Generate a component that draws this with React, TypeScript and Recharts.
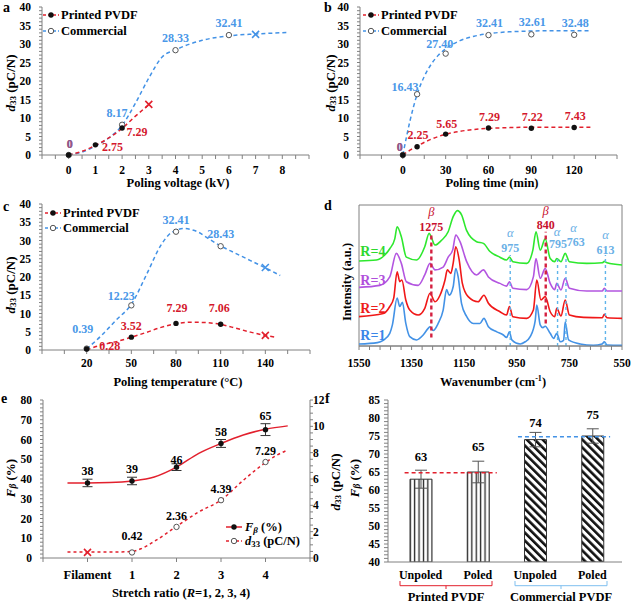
import React from 'react';
import {
  ComposedChart,
  BarChart,
  Line,
  Scatter,
  Bar,
  Cell,
  XAxis,
  YAxis,
  ErrorBar,
  ReferenceLine,
  ReferenceArea,
  LabelList,
} from 'recharts';

const FONT = '"Liberation Serif", "Times New Roman", serif';
const RED = '#e2202d';
const BLUE = '#4392e6';
const RED_TXT = '#d4182c';
const BLUE_TXT = '#4a98e8';
const AXIS = '#808080';

const range = (a: number, b: number, s: number) => {
  const out: number[] = [];
  for (let v = a; v <= b + 1e-9; v += s) out.push(Math.round(v * 1000) / 1000);
  return out;
};

// ---- a: poling voltage ----
const aPrintedX = [0, 1, 2];
const aPrintedY = [0, 2.75, 7.29];
const aPrintedEndX = [3];
const aPrintedEndY = [13.7];
const aCommX = [0, 2, 4, 6];
const aCommY = [0, 8.17, 28.33, 32.41];
const aCommEndX = [7];
const aCommEndY = [32.6];
const aPrintedFitX = [0, 0.5, 1, 1.5, 2, 2.5, 3];
const aPrintedFitY = [0, 1.0, 2.6, 4.6, 7.2, 10.5, 13.6];
const aCommFitX = [0, 0.5, 1, 1.5, 2, 2.5, 3, 3.5, 4, 4.5, 5, 6, 7, 8.2];
const aCommFitY = [0, 0.8, 2.4, 4.6, 8.0, 14, 20.8, 26.5, 28.4, 29.9, 31, 32.2, 32.7, 33.1];
const aTicks = range(-1, 9, 0.5);
const aTickLabels = [0, 1, 2, 3, 4, 5, 6, 7, 8];

// ---- b: poling time ----
const bX = [0, 10, 30, 60, 90, 120];
const bPrintedY = [0, 2.25, 5.65, 7.29, 7.22, 7.43];
const bCommY = [0, 16.43, 27.4, 32.41, 32.61, 32.48];
const bPrintedFitX = [0, 5, 10, 20, 30, 40, 50, 60, 75, 90, 110, 132];
const bPrintedFitY = [0, 1.3, 2.4, 4.3, 5.6, 6.4, 6.9, 7.2, 7.4, 7.5, 7.5, 7.5];
const bCommFitX = [0, 5, 10, 15, 20, 25, 30, 40, 50, 60, 75, 90, 110, 132];
const bCommFitY = [0, 9.2, 16.4, 21.2, 24.6, 27, 28.7, 30.9, 32.1, 32.8, 33.3, 33.5, 33.6, 33.6];
const bTicks = range(-30, 150, 15);
const bTickLabels = [0, 30, 60, 90, 120];

// ---- c: poling temperature ----
const cX = [20, 50, 80, 110];
const cPrintedY = [0.28, 3.52, 7.29, 7.06];
const cCommY = [0.39, 12.23, 32.41, 28.43];
const cPrintedEndX = [140];
const cPrintedEndY = [4.0];
const cCommEndX = [140];
const cCommEndY = [22.6];
const cPrintedFitX = [20, 30, 40, 50, 60, 70, 80, 90, 100, 110, 120, 130, 140, 147];
const cPrintedFitY = [0, 1.4, 2.3, 3.5, 4.8, 6.2, 7.2, 7.6, 7.5, 7.0, 6.0, 4.9, 4.0, 3.5];
const cCommFitX = [20, 30, 40, 50, 60, 70, 75, 80, 85, 90, 95, 100, 110, 120, 130, 140, 150];
const cCommFitY = [0.3, 4, 8.3, 12.5, 20.5, 28.8, 31.5, 32.8, 33.3, 33, 32.3, 31, 28.5, 26.5, 24.5, 22.5, 20.4];
const cTicks = range(-10, 170, 15);
const cTickLabels = [20, 50, 80, 110, 140];

// ---- d: FTIR spectra ----
const r1X = [1550, 1480, 1458, 1433, 1423, 1405, 1395, 1385, 1372, 1357, 1331, 1306, 1287, 1280, 1268, 1249, 1230, 1217, 1207, 1192, 1182, 1173, 1160, 1141, 1115, 1090, 1075, 1058, 1026, 1001, 989, 978, 969, 937, 918, 899, 880, 874, 861, 851, 842, 823, 810, 798, 785, 772, 766, 753, 709, 659, 626, 617, 607, 550];
const r1Y = [1.4, 2.4, 4, 9, 15, 34, 28, 31, 16, 6.6, 4.3, 7.8, 12.5, 13.7, 11, 16, 25.5, 40, 36, 42, 55, 49, 30, 21, 16, 16, 19.6, 13.7, 10, 7.8, 6, 10, 4.3, 1.4, 3, 6.6, 18, 29, 15, 13, 14, 9, 5.4, 9, 3, 4, 17, 4.3, 1.4, 0.5, 1.4, 3, 0.7, 0.5];
const r2X = [1550, 1458, 1433, 1418, 1405, 1395, 1387, 1372, 1357, 1325, 1300, 1280, 1261, 1242, 1223, 1214, 1201, 1192, 1182, 1169, 1157, 1135, 1097, 1075, 1058, 1014, 989, 978, 965, 912, 887, 874, 858, 842, 823, 806, 798, 782, 766, 750, 696, 625, 617, 607, 550];
const r2Y = [20.8, 23, 28, 34, 52.7, 45.6, 46.8, 32.6, 25.5, 22, 26.7, 37.4, 31.4, 36, 46.8, 54, 51.5, 58.6, 70.4, 61, 44.4, 35, 31.4, 36, 30.3, 24.3, 22, 28, 20.8, 19.6, 25.5, 46.8, 32.6, 35, 24.3, 20.8, 26.7, 21.3, 32.6, 22, 20.3, 20, 22.5, 20, 19.6];
const r3X = [1550, 1471, 1433, 1408, 1389, 1370, 1325, 1300, 1280, 1261, 1230, 1211, 1194, 1182, 1166, 1141, 1103, 1077, 1058, 1014, 989, 978, 965, 912, 887, 877, 861, 842, 823, 806, 798, 782, 766, 750, 684, 625, 617, 607, 550];
const r3Y = [41.6, 43, 49, 65.7, 58.6, 45.6, 43, 50.4, 58.6, 54, 56, 63, 68, 78.7, 74, 60, 50.4, 54, 49, 44.4, 42.5, 45.6, 41, 40, 49, 62, 48, 55, 44.4, 40, 44.4, 39.7, 48, 41, 39, 39, 41, 39, 39];
const r4X = [1550, 1484, 1452, 1433, 1414, 1405, 1389, 1370, 1331, 1300, 1283, 1276, 1261, 1236, 1211, 1192, 1176, 1160, 1141, 1103, 1077, 1052, 1014, 989, 978, 965, 912, 889, 877, 861, 842, 823, 806, 798, 782, 766, 750, 684, 625, 617, 607, 550];
const r4Y = [60.3, 61, 64.5, 69, 76, 84.6, 77.5, 63, 61, 70.4, 80, 77.5, 71.6, 75, 81, 91.7, 96, 93, 82, 74, 72.8, 67, 63, 61, 63, 59.8, 58.6, 68, 81, 68, 76, 62, 59.8, 62, 59.8, 65.7, 59.8, 58.6, 59, 60, 59, 57.4];
const dMarkX = [1275, 840, 975, 795, 763, 613];
const dMarkFrom = [6, 16, 0, 0, 0, 0];
const dMarkTo = [80, 81, 64.5, 62, 63.8, 64.5];
const dGreekText = ['β', 'β', 'α', 'α', 'α', 'α'];
const dGreekX = [1275, 840, 975, 797, 734, 613];
const dGreekY = [95, 96, 80, 81, 84, 78.7];
const dNumText = ['1275', '840', '975', '795', '763', '613'];
const dNumX = [1275, 840, 975, 793, 726, 613];
const dNumY = [84.5, 85.5, 69.3, 72, 74, 68];
const dRText = ['R=1', 'R=2', 'R=3', 'R=4'];
const dRX = [1545, 1545, 1545, 1545];
const dRY = [7.1, 26.7, 46.8, 67];
const dTicks = range(550, 1550, 40);
const dTickLabels = [1550, 1350, 1150, 950, 750, 550];

// ---- e: stretch ratio ----
const eX = [0, 1, 2, 3, 4];
const eFb = [38, 39, 46, 58, 65];
const eFbErr = [1.9, 1.9, 1.7, 2, 3];
const eD33X = [1, 2, 3, 4];
const eD33 = [0.42, 2.36, 4.39, 7.29];
const eD33EndX = [0];
const eD33EndY = [0.43];
const eFbFitX = [-0.45, 0, 0.5, 1, 1.5, 2, 2.5, 3, 3.5, 4, 4.5];
const eFbFitY = [38, 38, 38.2, 39, 41, 46, 53, 58, 62.3, 65.2, 66.9];
const eD33FitX = [-0.45, 0, 0.5, 1, 1.2, 1.5, 2, 2.5, 3, 3.5, 4, 4.25, 4.5];
const eD33FitY = [0.45, 0.45, 0.45, 0.5, 0.7, 1.26, 2.4, 3.5, 4.4, 5.9, 7.25, 7.8, 8.2];
const eTicks = [-1, 0, 1, 2, 3, 4, 5];
const eTickNames = ['', 'Filament', '1', '2', '3', '4', ''];

// ---- f: beta fraction bars ----
const fNames = ['Unpoled', 'Poled', 'Unpoled', 'Poled'];
const fValues = [63, 65, 74, 75];
const fErrors = [2.5, 3, 2, 2];
const fPrintedAvg = 64.8;
const fCommAvg = 74.8;

// label offsets (px) from their points
const aPrintedDx = [1, 17, 15];
const aPrintedDy = [-11, 2, 4];
const aCommDx = [1, -5, 0, 0];
const aCommDy = [-11, -11.5, -12, -12];
const bPrintedDx = [-3, 1, 1, 1, 1, 1];
const bPrintedDy = [-8, -12, -10, -11, -11.5, -11.5];
const bCommDx = [-3, -12, -6, 1, 1, 1];
const bCommDy = [-8, -7, -10, -12, -12, -12];
const cPrintedDx = [23, 0, 1, -1.5];
const cPrintedDy = [-3, -11, -15, -16];
const cCommDx = [-4, -10, 0, 0];
const cCommDy = [-20, -9, -12, -12];
const eFbDy = [-11.7, -12, -7, -11.7, -13.3];
const eD33Dy = [-16, -10.5, -11, -10.6];
const fLabelLift = [22, 25.3, 17, 21];

type Pt = { x: number; y: number; e: number; i: number };
const pts = (xs: number[], ys: number[], es?: number[]): Pt[] =>
  xs.map((x, i) => ({ x, y: ys[i], e: es ? es[i] : 0, i }));

const fmt = (v: number) => (v === 0 ? '0' : v.toFixed(2));
const labelsAt = (list: number[]) => (v: number) => (list.includes(v) ? String(v) : '');
const yTicks40 = range(0, 40, 1);
const yLabels40 = [0, 5, 10, 15, 20, 25, 30, 35, 40];

const TICK = { fontSize: 11.5, fontWeight: 700, fill: '#000', fontFamily: FONT };

const blackDot = (p: any) => <circle cx={p.cx} cy={p.cy} r={2.7} fill="#111" />;
const openDot = (p: any) => (
  <circle cx={p.cx} cy={p.cy} r={2.7} fill="#fff" stroke="#555" strokeWidth={1} />
);
const cross = (color: string) => (p: any) => (
  <path
    d={`M${p.cx - 3.5},${p.cy - 3.5}L${p.cx + 3.5},${p.cy + 3.5}M${p.cx - 3.5},${p.cy + 3.5}L${p.cx + 3.5},${p.cy - 3.5}`}
    stroke={color}
    strokeWidth={1.6}
    fill="none"
  />
);

type TagOpts = { size?: number; italic?: boolean; bold?: boolean; opacity?: number; anchor?: string };
const tag = (
  texts: string[],
  color: string | string[],
  dx?: number[],
  dy?: number[],
  o: TagOpts = {}
) => (p: any) => {
  const i = p.payload.i;
  return (
    <text
      x={p.cx + (dx ? dx[i] : 0)}
      y={p.cy + (dy ? dy[i] : 0)}
      textAnchor={o.anchor || 'middle'}
      dominantBaseline="central"
      fill={Array.isArray(color) ? color[i] : color}
      fillOpacity={o.opacity ?? 1}
      fontSize={o.size ?? 12}
      fontWeight={o.bold === false ? 400 : 700}
      fontStyle={o.italic ? 'italic' : 'normal'}
      fontFamily={FONT}
    >
      {texts[i]}
    </text>
  );
};

const fitLine = (xs: number[], ys: number[], color: string, dash = '4 3', yAxisId: any = 0) => (
  <Line
    data={pts(xs, ys)}
    dataKey="y"
    yAxisId={yAxisId}
    type="monotone"
    stroke={color}
    strokeWidth={1.5}
    strokeDasharray={dash}
    dot={false}
    activeDot={false}
    isAnimationActive={false}
  />
);

const spectrum = (xs: number[], ys: number[], color: string) => (
  <Line
    data={pts(xs, ys)}
    dataKey="y"
    type="monotone"
    stroke={color}
    strokeWidth={1.6}
    dot={false}
    activeDot={false}
    isAnimationActive={false}
  />
);

const marks = (xs: number[], ys: number[], shape: any, yAxisId: any = 0, es?: number[]) => (
  <Scatter data={pts(xs, ys, es)} dataKey="y" yAxisId={yAxisId} shape={shape} isAnimationActive={false}>
    {es ? <ErrorBar dataKey="e" direction="y" width={5} stroke="#333" strokeWidth={1} /> : null}
  </Scatter>
);

function PanelA() {
  return (
    <div style={{ position: 'absolute', left: 0, top: 0 }}>
      <ComposedChart width={320} height={180} margin={{ top: 7, right: 11, bottom: 0, left: 0 }}>
        <XAxis type="number" dataKey="x" domain={[-1, 9]} ticks={aTicks} interval={0} tickFormatter={labelsAt(aTickLabels)} tick={TICK} tickSize={4} tickMargin={7} height={25} stroke={AXIS} />
        <YAxis type="number" dataKey="y" domain={[0, 40]} ticks={yTicks40} interval={0} tickFormatter={labelsAt(yLabels40)} tick={TICK} tickSize={3} tickMargin={8} width={42} stroke={AXIS} />
        {fitLine(aCommFitX, aCommFitY, BLUE)}
        {fitLine(aPrintedFitX, aPrintedFitY, RED)}
        {marks(aCommX, aCommY, openDot)}
        {marks(aCommEndX, aCommEndY, cross(BLUE))}
        {marks(aPrintedX, aPrintedY, blackDot)}
        {marks(aPrintedEndX, aPrintedEndY, cross(RED))}
        {marks(aPrintedX, aPrintedY, tag(aPrintedY.map(fmt), RED_TXT, aPrintedDx, aPrintedDy))}
        {marks(aCommX, aCommY, tag(aCommY.map(fmt), BLUE_TXT, aCommDx, aCommDy))}
        {marks([aCommX[0]], [aCommY[0]], tag(['0'], RED_TXT, aCommDx, aCommDy, { opacity: 0.5 }))}
      </ComposedChart>
    </div>
  );
}

function PanelB() {
  return (
    <div style={{ position: 'absolute', left: 320, top: 0 }}>
      <ComposedChart width={320} height={180} margin={{ top: 7, right: 23, bottom: 0, left: 0 }}>
        <XAxis type="number" dataKey="x" domain={[-30, 150]} ticks={bTicks} interval={0} tickFormatter={labelsAt(bTickLabels)} tick={TICK} tickSize={4} tickMargin={7} height={25} stroke={AXIS} />
        <YAxis type="number" dataKey="y" domain={[0, 40]} ticks={yTicks40} interval={0} tickFormatter={labelsAt(yLabels40)} tick={TICK} tickSize={3} tickMargin={8} width={40} stroke={AXIS} />
        {fitLine(bCommFitX, bCommFitY, BLUE)}
        {fitLine(bPrintedFitX, bPrintedFitY, RED)}
        {marks(bX, bCommY, openDot)}
        {marks(bX, bPrintedY, blackDot)}
        {marks(bX, bPrintedY, tag(bPrintedY.map(fmt), RED_TXT, bPrintedDx, bPrintedDy))}
        {marks(bX, bCommY, tag(bCommY.map(fmt), BLUE_TXT, bCommDx, bCommDy))}
        {marks([bX[0]], [bPrintedY[0]], tag(['0'], RED_TXT, bPrintedDx, bPrintedDy, { opacity: 0.5 }))}
      </ComposedChart>
    </div>
  );
}

function PanelC() {
  return (
    <div style={{ position: 'absolute', left: 0, top: 190 }}>
      <ComposedChart width={320} height={185} margin={{ top: 14, right: 10, bottom: 0, left: 0 }}>
        <XAxis type="number" dataKey="x" domain={[-10, 170]} ticks={cTicks} interval={0} tickFormatter={labelsAt(cTickLabels)} tick={TICK} tickSize={4} tickMargin={5} height={25} stroke={AXIS} />
        <YAxis type="number" dataKey="y" domain={[0, 40]} ticks={yTicks40} interval={0} tickFormatter={labelsAt(yLabels40)} tick={TICK} tickSize={3} tickMargin={8} width={42} stroke={AXIS} />
        {fitLine(cCommFitX, cCommFitY, BLUE)}
        {fitLine(cPrintedFitX, cPrintedFitY, RED)}
        {marks(cX, cCommY, openDot)}
        {marks(cCommEndX, cCommEndY, cross(BLUE))}
        {marks(cX, cPrintedY, blackDot)}
        {marks(cPrintedEndX, cPrintedEndY, cross(RED))}
        {marks(cX, cCommY, tag(cCommY.map(fmt), BLUE_TXT, cCommDx, cCommDy))}
        {marks(cX, cPrintedY, tag(cPrintedY.map(fmt), RED_TXT, cPrintedDx, cPrintedDy))}
      </ComposedChart>
    </div>
  );
}

function PanelD() {
  const seriesColors = [BLUE, '#f01818', '#b355e0', '#2ee82e'];
  const rColors = ['#3a86e8', '#ee1c1c', '#b04fdc', '#2ed82e'];
  return (
    <div style={{ position: 'absolute', left: 320, top: 200 }}>
      <ComposedChart width={320} height={171} margin={{ top: 5, right: 18, bottom: 0, left: 39 }}>
        <XAxis type="number" dataKey="x" domain={[550, 1550]} reversed ticks={dTicks} interval={0} tickFormatter={labelsAt(dTickLabels)} tick={TICK} tickSize={4} tickMargin={9} height={25} stroke={AXIS} />
        <YAxis type="number" dataKey="y" domain={[0, 100]} hide />
        <ReferenceArea x1={550} x2={1550} y1={0} y2={100} fill="none" fillOpacity={0} stroke={AXIS} strokeWidth={1} />
        {spectrum(r1X, r1Y, seriesColors[0])}
        {spectrum(r2X, r2Y, seriesColors[1])}
        {spectrum(r3X, r3Y, seriesColors[2])}
        {spectrum(r4X, r4Y, seriesColors[3])}
        {dMarkX.map((x, i) => (
          <ReferenceLine
            key={i}
            segment={[{ x, y: dMarkFrom[i] }, { x, y: dMarkTo[i] }]}
            stroke={i < 2 ? '#d42040' : '#5fb4ea'}
            strokeWidth={i < 2 ? 2.4 : 1.4}
            strokeDasharray={i < 2 ? '4 3' : '3 3'}
          />
        ))}
        {marks(dGreekX, dGreekY, tag(dGreekText, dGreekText.map((t) => (t === 'β' ? '#c8102e' : '#6ab0e6')), undefined, undefined, { size: 12.5, italic: true, bold: false }))}
        {marks(dNumX, dNumY, tag(dNumText, dNumText.map((_, i) => (i < 2 ? '#c8102e' : '#6ab0e6')), undefined, undefined, { size: 12, bold: true }))}
        {marks(dRX, dRY, tag(dRText, rColors, undefined, undefined, { size: 14, anchor: 'start' }))}
      </ComposedChart>
    </div>
  );
}

function PanelE() {
  return (
    <div style={{ position: 'absolute', left: 0, top: 393 }}>
      <ComposedChart width={340} height={190} margin={{ top: 7, right: 0, bottom: 0, left: 0 }}>
        <XAxis type="number" dataKey="x" domain={[-1, 5]} ticks={eTicks} interval={0} tickFormatter={(v: number) => eTickNames[eTicks.indexOf(v)] ?? ''} tick={{ ...TICK, fontSize: 12.5 }} tickSize={4} tickMargin={8} height={25} stroke={AXIS} />
        <YAxis yAxisId="l" type="number" dataKey="y" domain={[0, 80]} ticks={range(0, 80, 2)} interval={0} tickFormatter={labelsAt(range(0, 80, 10))} tick={TICK} tickSize={3} tickMargin={8} width={43} stroke={AXIS} />
        <YAxis yAxisId="r" orientation="right" type="number" dataKey="y" domain={[0, 12]} ticks={range(0, 12, 0.5)} interval={0} tickFormatter={labelsAt(range(0, 12, 2))} tick={TICK} tickSize={3} tickMargin={0} width={30} stroke={AXIS} />
        {fitLine(eFbFitX, eFbFitY, RED, '0', 'l')}
        {fitLine(eD33FitX, eD33FitY, RED, '3 3', 'r')}
        {marks(eX, eFb, blackDot, 'l', eFbErr)}
        {marks(eD33X, eD33, openDot, 'r')}
        {marks(eD33EndX, eD33EndY, cross(RED), 'r')}
        {marks(eX, eFb, tag(eFb.map(String), '#000', undefined, eFbDy), 'l')}
        {marks(eD33X, eD33, tag(eD33.map(fmt), '#000', undefined, eD33Dy), 'r')}
      </ComposedChart>
    </div>
  );
}

const FLabel = (p: any) => {
  const i = p.index != null ? p.index : fValues.indexOf(Number(p.value));
  return (
    <text
      x={p.x + p.width / 2}
      y={p.y - fLabelLift[i]}
      textAnchor="middle"
      dominantBaseline="central"
      fontSize={12.5}
      fontWeight={700}
      fontFamily={FONT}
      fill="#000"
    >
      {fValues[i]}
    </text>
  );
};

function PanelF() {
  const fData = fValues.map((v, i) => ({ id: i, v, e: fErrors[i] }));
  return (
    <div style={{ position: 'absolute', left: 320, top: 393 }}>
      <BarChart width={320} height={194} data={fData} margin={{ top: 7, right: 18, bottom: 0, left: 0 }} barSize={22}>
        <defs>
          <pattern id="vstripe" width={4.4} height={10} patternUnits="userSpaceOnUse">
            <rect width={4.4} height={10} fill="#fff" />
            <rect x={1.6} width={1.3} height={10} fill="#222" />
          </pattern>
          <pattern id="dstripe" width={5.6} height={10} patternUnits="userSpaceOnUse" patternTransform="rotate(-45)">
            <rect width={5.6} height={10} fill="#fff" />
            <rect width={2.6} height={10} fill="#111" />
          </pattern>
        </defs>
        <XAxis dataKey="id" type="category" tickFormatter={(v: number) => fNames[v]} tick={{ ...TICK, fontSize: 12 }} tickLine={false} tickSize={0} tickMargin={8} height={25} padding={{ left: 4, right: 1 }} stroke={AXIS} />
        <XAxis xAxisId="n" dataKey="id" type="number" domain={[-0.5, 3.5]} allowDataOverflow hide padding={{ left: 4, right: 1 }} />
        <XAxis xAxisId="top" orientation="top" dataKey="id" height={0} tick={false} tickLine={false} stroke={AXIS} />
        <YAxis type="number" domain={[40, 85]} ticks={range(40, 85, 1)} interval={0} tickFormatter={labelsAt(range(40, 85, 5))} tick={TICK} tickSize={4} tickMargin={4} width={68} stroke={AXIS} allowDataOverflow />
        <YAxis yAxisId="rt" orientation="right" type="number" domain={[40, 85]} width={0} tick={false} tickLine={false} stroke={AXIS} />
        <Bar dataKey="v" isAnimationActive={false} stroke="#333" strokeWidth={1}>
          {fData.map((d) => (
            <Cell key={d.id} fill={d.id < 2 ? 'url(#vstripe)' : 'url(#dstripe)'} />
          ))}
          <ErrorBar dataKey="e" width={6} stroke="#555" strokeWidth={1} />
          <LabelList dataKey="v" content={FLabel} />
        </Bar>
        <ReferenceLine xAxisId="n" segment={[{ x: -0.28, y: fPrintedAvg }, { x: 1.33, y: fPrintedAvg }]} stroke={RED} strokeWidth={1.5} strokeDasharray="4 3" />
        <ReferenceLine xAxisId="n" segment={[{ x: 1.7, y: fCommAvg }, { x: 3.31, y: fCommAvg }]} stroke={BLUE} strokeWidth={1.5} strokeDasharray="4 3" />
      </BarChart>
    </div>
  );
}

const D33 = ({ x, y, rotate, size = 13 }: { x: number; y: number; rotate?: boolean; size?: number }) => (
  <text
    transform={`translate(${x},${y})${rotate ? ' rotate(-90)' : ''}`}
    textAnchor={rotate ? 'middle' : 'start'}
    dominantBaseline="central"
    fontSize={size}
  >
    <tspan fontStyle="italic">d</tspan>
    <tspan fontSize={size * 0.7} dy={3}>33</tspan>
    <tspan dy={-3}> (pC/N)</tspan>
  </text>
);

const FBeta = ({ x, y, rotate, size = 13 }: { x: number; y: number; rotate?: boolean; size?: number }) => (
  <text
    transform={`translate(${x},${y})${rotate ? ' rotate(-90)' : ''}`}
    textAnchor={rotate ? 'middle' : 'start'}
    dominantBaseline="central"
    fontSize={size}
  >
    <tspan fontStyle="italic">F</tspan>
    <tspan fontStyle="italic" fontSize={size * 0.72} dy={3}>β</tspan>
    <tspan dy={-3}> (%)</tspan>
  </text>
);

function LegendRow({ x, y, color, open, dashed = true, children }: any) {
  return (
    <g>
      <line x1={x} x2={x + 16} y1={y} y2={y} stroke={color} strokeWidth={1.5} strokeDasharray={dashed ? '3 2' : undefined} />
      {open ? (
        <circle cx={x + 8} cy={y} r={2.7} fill="#fff" stroke="#555" strokeWidth={1} />
      ) : (
        <circle cx={x + 8} cy={y} r={2.7} fill="#111" />
      )}
      {children}
    </g>
  );
}

function Overlay() {
  const title = { textAnchor: 'middle' as const, dominantBaseline: 'central' as const, fontSize: 12.5 };
  const legendText = { dominantBaseline: 'central' as const, fontSize: 12.5 };
  return (
    <svg width={640} height={603} style={{ position: 'absolute', left: 0, top: 0, pointerEvents: 'none' }}>
      <g fontFamily={FONT} fontWeight="bold" fill="#000">
        <text x={3} y={11.5} fontSize={14}>a</text>
        <text x={324} y={11.5} fontSize={14}>b</text>
        <text x={3} y={210.5} fontSize={14}>c</text>
        <text x={324} y={209.5} fontSize={14}>d</text>
        <text x={1} y={403} fontSize={14}>e</text>
        <text x={325} y={403} fontSize={14}>f</text>

        <text x={178} y={183} {...title}>Poling voltage (kV)</text>
        <text x={492} y={183} {...title}>Poling time (min)</text>
        <text x={178} y={382} {...title}>Poling temperature (°C)</text>
        <text x={493} y={382} {...title}>
          <tspan>Wavenumber (cm</tspan>
          <tspan fontSize={8} dy={-4}>-1</tspan>
          <tspan dy={4}>)</tspan>
        </text>
        <text x={181} y={593} {...title}>
          <tspan>Stretch ratio (</tspan>
          <tspan fontStyle="italic">R</tspan>
          <tspan>=1, 2, 3, 4)</tspan>
        </text>

        <D33 x={10} y={83} rotate />
        <D33 x={330} y={83} rotate />
        <D33 x={10} y={285} rotate />
        <text transform="translate(347,282) rotate(-90)" textAnchor="middle" dominantBaseline="central" fontSize={12.5}>Intensity (a.u.)</text>
        <FBeta x={10} y={478} rotate />
        <D33 x={335} y={482} rotate />
        <FBeta x={354} y={478} rotate />

        <LegendRow x={43} y={15} color={RED}>
          <text x={61} y={15} {...legendText}>Printed PVDF</text>
        </LegendRow>
        <LegendRow x={43} y={31} color={BLUE} open>
          <text x={61} y={31} {...legendText}>Commercial</text>
        </LegendRow>
        <LegendRow x={363} y={15} color={RED}>
          <text x={381} y={15} {...legendText}>Printed PVDF</text>
        </LegendRow>
        <LegendRow x={363} y={31} color={BLUE} open>
          <text x={381} y={31} {...legendText}>Commercial</text>
        </LegendRow>
        <LegendRow x={45} y={213} color={RED}>
          <text x={63} y={213} {...legendText}>Printed PVDF</text>
        </LegendRow>
        <LegendRow x={45} y={228} color={BLUE} open>
          <text x={63} y={228} {...legendText}>Commercial</text>
        </LegendRow>
        <LegendRow x={226} y={527} color={RED} dashed={false}>
          <FBeta x={245} y={527} size={12.5} />
        </LegendRow>
        <LegendRow x={226} y={541} color={RED} open>
          <D33 x={245} y={541} size={12.5} />
        </LegendRow>

        <path d="M400,581L400,585.7L492,585.7L492,581M446,585.7L446,589" stroke={RED} strokeWidth={1} fill="none" />
        <path d="M515,581L515,585.7L607,585.7L607,581M561,585.7L561,589" stroke="#7fbfef" strokeWidth={1} fill="none" />
        <text x={446} y={597} {...title}>Printed PVDF</text>
        <text x={561} y={597} {...title}>Commercial PVDF</text>
      </g>
    </svg>
  );
}

export default function App() {
  return (
    <div style={{ position: 'absolute', left: 0, top: 0, width: 640, height: 603, background: '#fff', overflow: 'hidden' }}>
      <PanelA />
      <PanelB />
      <PanelC />
      <PanelD />
      <PanelE />
      <PanelF />
      <Overlay />
    </div>
  );
}
